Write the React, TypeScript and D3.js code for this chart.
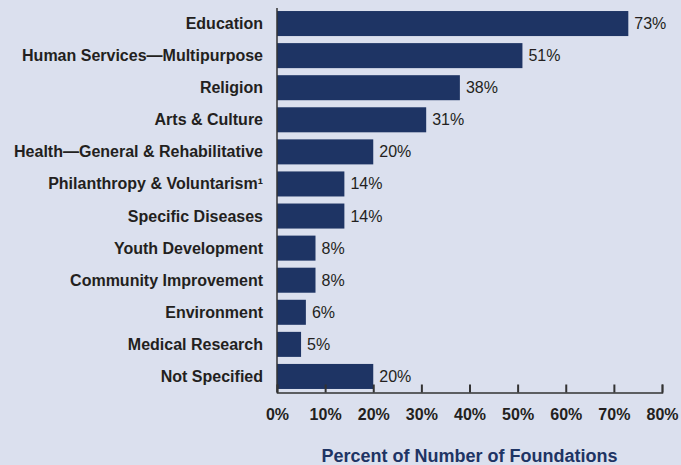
import React, { useEffect, useRef } from 'react';
import * as d3 from 'd3';

const categories = [
  'Education',
  'Human Services—Multipurpose',
  'Religion',
  'Arts & Culture',
  'Health—General & Rehabilitative',
  'Philanthropy & Voluntarism¹',
  'Specific Diseases',
  'Youth Development',
  'Community Improvement',
  'Environment',
  'Medical Research',
  'Not Specified',
];
const values = [73, 51, 38, 31, 20, 14, 14, 8, 8, 6, 5, 20];
const ticks = [0, 10, 20, 30, 40, 50, 60, 70, 80];
const axisTitle = 'Percent of Number of Foundations';

const W = 681;
const H = 465;
const X0 = 277;
const X1 = 662;
const Y0 = 7.5;
const Y1 = 392.5;
const BAR = '#1e3464';
const TEXT = '#231f20';
const FONT = '"Liberation Sans", Arial, sans-serif';

const App: React.FC = () => {
  const svgRef = useRef<SVGSVGElement>(null);

  useEffect(() => {
    if (!svgRef.current) return;
    const svg = d3.select(svgRef.current);
    svg.selectAll('*').remove();

    svg.append('rect').attr('width', W).attr('height', H).attr('fill', '#dbe0ee');

    const x = d3.scaleLinear().domain([0, 80]).range([X0, X1]);
    const y = d3.scaleBand<string>().domain(categories).range([Y0, Y1]).paddingInner(0.22).paddingOuter(0.11);

    // bars
    svg.append('g')
      .selectAll('rect')
      .data(categories)
      .join('rect')
      .attr('x', x(0))
      .attr('y', d => y(d)!)
      .attr('width', (d, i) => x(values[i]) - x(0))
      .attr('height', y.bandwidth())
      .attr('fill', BAR);

    // value labels
    svg.append('g')
      .selectAll('text')
      .data(categories)
      .join('text')
      .attr('x', (d, i) => x(values[i]) + 6)
      .attr('y', d => y(d)! + y.bandwidth() / 2 + 5.5)
      .attr('fill', TEXT)
      .attr('font-family', FONT)
      .attr('font-size', '16px')
      .text((d, i) => `${values[i]}%`);

    // category labels
    svg.append('g')
      .selectAll('text')
      .data(categories)
      .join('text')
      .attr('x', 263)
      .attr('y', d => y(d)! + y.bandwidth() / 2 + 5.5)
      .attr('text-anchor', 'end')
      .attr('fill', TEXT)
      .attr('font-family', FONT)
      .attr('font-weight', 'bold')
      .attr('font-size', '16px')
      .text(d => d);

    // vertical axis line
    svg.append('line')
      .attr('x1', X0).attr('x2', X0)
      .attr('y1', 8).attr('y2', Y1)
      .attr('stroke', '#333').attr('stroke-width', 1.5);

    // x axis
    const xAxis = d3.axisBottom(x)
      .tickValues(ticks)
      .tickSize(-8)
      .tickPadding(16)
      .tickFormat(d => `${d}%`);

    const g = svg.append('g')
      .attr('transform', `translate(0, ${Y1})`)
      .call(xAxis);
    g.select('.domain').attr('stroke', '#333').attr('stroke-width', 1.5);
    g.selectAll('.tick line').attr('stroke', '#333').attr('stroke-width', 2);
    g.selectAll('.tick text')
      .attr('fill', TEXT)
      .attr('font-family', FONT)
      .attr('font-weight', 'bold')
      .attr('font-size', '16px');

    svg.append('text')
      .attr('x', (X0 + X1) / 2)
      .attr('y', 462)
      .attr('text-anchor', 'middle')
      .attr('fill', BAR)
      .attr('font-family', FONT)
      .attr('font-weight', 'bold')
      .attr('font-size', '18px')
      .text(axisTitle);
  }, []);

  return <svg ref={svgRef} width={W} height={H} style={{ display: 'block', position: 'absolute', left: 0, top: 0 }} />;
};

export default App;
